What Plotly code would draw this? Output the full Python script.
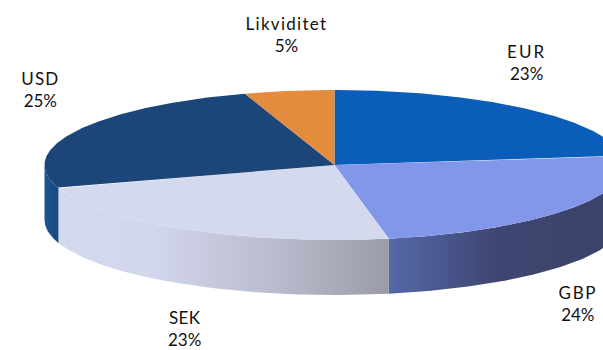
import numpy as np
import plotly.graph_objects as go

categories = ["EUR", "GBP", "SEK", "USD", "Likviditet"]
values = [23, 24, 23, 25, 5]
top_colors = ["#0A5DB9", "#8397EA", "#D5D9EE", "#1C4679", "#E38C3E"]
label_x = [527, 578, 184, 40, 286]
label_y = [62, 303, 328, 89, 34]
label_spacing = [2.2, 1.6, 0.3, 1.2, 1.3]

CX, CY, RX, RY, DEPTH = 334.5, 165.0, 290.0, 75.0, 55.0


def px(deg):
    return CX + RX * np.sin(np.radians(deg))


def py(deg):
    return CY - RY * np.cos(np.radians(deg))


def arc(a, b):
    t = np.linspace(a, b, max(int(abs(b - a) * 2), 2))
    return px(t), py(t)


edges = np.concatenate([[0], np.cumsum(values)]) * 3.6
fig = go.Figure()


def wall(a, b, stops, start, stop):
    x, y = arc(a, b)
    fig.add_trace(go.Scatter(
        x=np.concatenate([x, x[::-1], x[:1]]),
        y=np.concatenate([y, y[::-1] + DEPTH, y[:1]]),
        mode="lines", line=dict(width=0), fill="toself",
        fillgradient=dict(type="horizontal", colorscale=stops, start=start, stop=stop),
        hoverinfo="skip", showlegend=False))


wall(edges[3], 270, [[0, "#1B5596"], [1, "#1C4A82"]], 44, 56)
wall(90, edges[2], [[0, "#5468A8"], [0.5, "#3E4672"], [1, "#3C4268"]], 390, 603)
wall(edges[2], edges[3], [[0, "#D5D9EE"], [0.28, "#D3D7EC"], [0.65, "#BABCCE"], [1, "#9A9BA6"]], 56, 390)

for i, name in enumerate(categories):
    x, y = arc(edges[i], edges[i + 1])
    fig.add_trace(go.Scatter(
        x=np.concatenate([[CX], x, [CX]]),
        y=np.concatenate([[CY], y, [CY]]),
        mode="lines", line=dict(width=0), fill="toself",
        fillcolor=top_colors[i], name=name, showlegend=False,
        hovertemplate=f"{name}: {values[i]}%<extra></extra>"))

for i, name in enumerate(categories):
    fig.add_annotation(x=label_x[i], y=label_y[i], text=f"{name}<br>{values[i]}%",
                       showarrow=False, align="center", xanchor="center", yanchor="middle",
                       font=dict(family="Lato", size=17, color="#111111"))

fig.update_layout(
    width=603, height=350, margin=dict(l=0, r=0, t=0, b=0),
    paper_bgcolor="white", plot_bgcolor="white",
    xaxis=dict(range=[0, 603], visible=False, fixedrange=True),
    yaxis=dict(range=[350, 0], visible=False, fixedrange=True),
    showlegend=False)

post = """
document.body.style.margin = '0';
document.documentElement.style.overflow = 'hidden';
var sp = %s;
document.querySelectorAll('.annotation-text').forEach(function (t, i) {
  var first = t.querySelector('tspan.line') || t;
  first.style.letterSpacing = sp[i] + 'px';
});
""" % label_spacing
fig.write_html("out.html", config=dict(displayModeBar=False), post_script=post)
